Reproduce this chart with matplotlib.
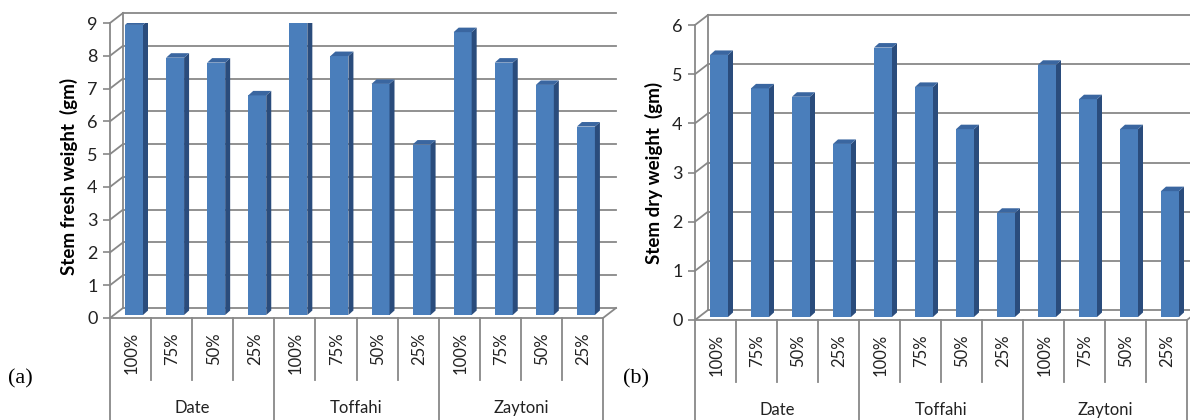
import matplotlib
matplotlib.use('Agg')
import matplotlib.pyplot as plt
from matplotlib.patches import Polygon

plt.rcParams['font.family'] = ['Lato', 'DejaVu Sans']

groups = ['Date', 'Toffahi', 'Zaytoni']
levels = ['100%', '75%', '50%', '25%']
fresh = [8.85, 7.85, 7.7, 6.7, 9.02, 7.9, 7.05, 5.2, 8.63, 7.7, 7.02, 5.75]
dry = [5.33, 4.65, 4.48, 3.52, 5.48, 4.68, 3.82, 2.12, 5.13, 4.43, 3.82, 2.56]

W, H = 1190, 420
fig = plt.figure(figsize=(W / 100, H / 100), dpi=100)

grid_c = '#888888'
front_c = '#4a7ebb'
side_c = '#2a4c7c'
top_c = '#3a66a0'


def panel(rect, vals, ymax, ylabel, ylab_y, tag, tagx):
    # rect in pixels: left, bottom(from top), right, top(from top)
    x0, y0, x1, y1 = rect
    ax = fig.add_axes([x0 / W, 1 - y0 / H, (x1 - x0) / W, (y0 - y1) / H])
    n = len(vals)
    ax.set_xlim(0, n)
    ax.set_ylim(0, ymax)
    sx = (x1 - x0) / n
    sy = (y0 - y1) / ymax
    px = lambda d: d / sx
    py = lambda d: d / sy
    dx, dy = px(13), py(10)

    for s in ax.spines.values():
        s.set_visible(False)
    ax.set_xticks([])
    ax.set_yticks(range(ymax + 1))
    ax.tick_params(axis='y', length=5, width=1.2, color=grid_c, pad=4,
                   labelsize=13, labelcolor='#222222')

    kw = dict(color=grid_c, lw=1.3, clip_on=False, zorder=1)
    # back wall gridlines and side wall
    for k in range(ymax + 1):
        ax.plot([dx, n + dx], [k + dy, k + dy], **kw)
        ax.plot([0, dx], [k, k + dy], **kw)
    ax.plot([0, 0], [0, ymax], **kw)
    ax.plot([dx, dx], [dy, ymax + dy], **kw)
    # floor
    ax.plot([0, n], [0, 0], **kw)
    ax.plot([n, n + dx], [0, dy], **kw)

    # bars
    bw = px(18)
    base = py(3)
    lefts = [i + px(15) for i in range(n)]
    ax.bar(lefts, vals, width=bw, bottom=base, align='edge', color=front_c,
           edgecolor='none', zorder=3)
    ddx, ddy = px(5), py(4.5)
    for l, v in zip(lefts, vals):
        r = l + bw
        t = base + v
        ax.add_patch(Polygon([(r, base), (r + ddx, base + ddy), (r + ddx, t + ddy), (r, t)],
                             closed=True, fc=side_c, ec='none', zorder=3))
        ax.add_patch(Polygon([(l, t), (r, t), (r + ddx, t + ddy), (l + ddx, t + ddy)],
                             closed=True, fc=top_c, ec='none', zorder=3))

    # category axis
    labels = levels * len(groups)
    for i, lab in enumerate(labels):
        ax.text(i + 0.5 + px(1), -py(14), lab, rotation=90, ha='right', va='center',
                rotation_mode='anchor', fontsize=12, color='#222222', clip_on=False)
    for k in range(n + 1):
        if k % 4 == 0:
            ax.plot([k, k], [0, -py(110)], **kw)
        else:
            ax.plot([k, k], [0, -py(62)], **kw)
    for g, name in enumerate(groups):
        ax.text(4 * g + 2, -py(90), name, ha='center', va='center', fontsize=12,
                color='#222222', clip_on=False)

    ax.set_ylabel(ylabel, fontsize=13.5, fontweight='bold', va='center')
    ax.yaxis.set_label_coords((-41) / (x1 - x0), ylab_y)
    fig.text(tagx / W, 1 - 379 / H, tag, fontsize=16, family='Liberation Serif',
             va='center', ha='left')
    return ax


panel((110, 318, 603, 23), fresh, 9, 'Stem fresh weight  (gm)', 0.48, '(a)', 8)
panel((695, 320, 1187, 25), dry, 6, 'Stem dry weight  (gm)', 0.50, '(b)', 623)

fig.savefig('out.png', dpi=100)
